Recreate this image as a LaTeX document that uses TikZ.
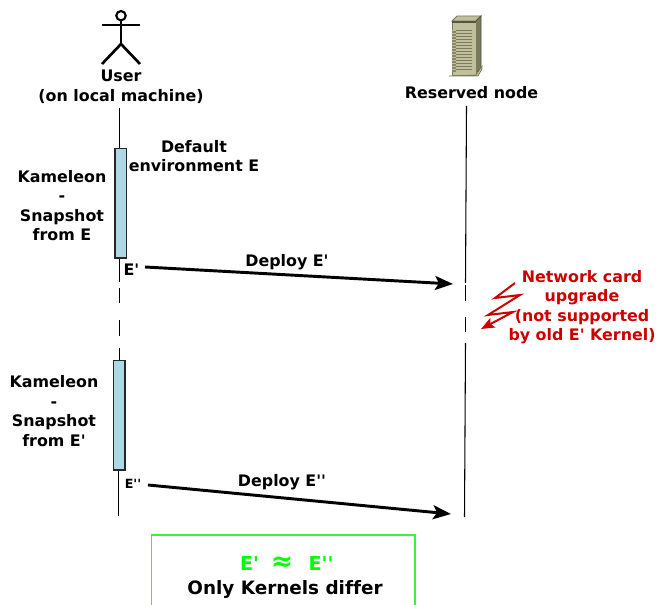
\documentclass[tikz,border=0pt]{standalone}
\usepackage{fontspec}
\newfontfamily\djv{DejaVu Sans}[Ligatures=NoCommon]
\newcommand{\lblfont}[2]{\djv\fontsize{#1}{#2}\selectfont\bfseries}
\usetikzlibrary{arrows.meta}
\definecolor{barblue}{HTML}{ADD8E6}
\definecolor{redtxt}{HTML}{CC0000}
\definecolor{srvA}{HTML}{C0C09C}
\definecolor{srvB}{HTML}{7A7A5C}
\definecolor{srvC}{HTML}{55553F}
\definecolor{boxgreen}{HTML}{3CF03C}
\definecolor{txtgreen}{HTML}{00FF00}
\tikzset{
  lbl/.style={font=\lblfont{11.9pt}{14.6pt}, align=center, inner sep=0pt, text=black},
  small/.style={font=\lblfont{9.5pt}{12pt}, inner sep=0pt},
  redlbl/.style={lbl, text=redtxt},
  greenlbl/.style={lbl, text=txtgreen, font=\lblfont{14.4pt}{16pt}},
  lifeline/.style={draw=black, line width=0.8pt},
  activation/.style={draw=black!85, fill=barblue, line width=1pt},
  msg/.style={draw=black, line width=2.2pt, -{Stealth[length=13.5pt,width=10.5pt,inset=3pt]}},
  stick/.style={draw=black, line width=2pt},
}
\begin{document}
\begin{tikzpicture}[x=0.75pt,y=-0.75pt]
\useasboundingbox (0,0) rectangle (656,605);
% actor
\draw[draw=black,line width=1.6pt] (121,15.7) circle (4.7);
\draw[stick] (121,21) -- (121,44);
\draw[stick] (102,25) -- (140,25);
\draw[stick] (102,64) -- (121,44) -- (140,64);
\node[lbl,font=\lblfont{11.9pt}{15pt}] (user) at (121,87) {User\\(on local machine)};
% server
\fill[srvA,draw=srvB,line width=0.6pt] (452,21) -- (457,16) -- (481,16) -- (476,21) -- cycle;
\fill[srvB,draw=srvC,line width=0.6pt] (476,21) -- (481,16) -- (481,68) -- (476,73) -- cycle;
\fill[srvA,draw=srvB,line width=0.6pt] (452,21) rectangle (476,75);
\fill[srvC] (452,21) rectangle (476,23.5);
\foreach \yy in {30,33,...,70}{\draw[srvB,line width=0.6pt] (456,\yy) -- (472,\yy);}
\fill[srvB!80!srvA] (452,30) rectangle (456,72);
\foreach \yy in {30,33,...,70}{\draw[srvA,line width=0.5pt] (452,\yy) -- (456,\yy);}
\fill[srvA,draw=srvB,line width=0.5pt] (449,76) -- (476,75) -- (482,66) -- (482,69) -- (478,76) -- cycle;
\node[lbl] (node) at (471.5,92.5) {Reserved node};
% anchors on the lifelines
\coordinate (u0) at (119.5,108);
\coordinate (u1) at (119.5,148);
\coordinate (u2) at (119.5,258);
\coordinate (u3) at (119.5,282);
\coordinate (u4) at (119.5,288);
\coordinate (u5) at (119.5,303);
\coordinate (u6) at (119.5,320);
\coordinate (u7) at (119.5,336);
\coordinate (u8) at (119.5,348);
\coordinate (u9) at (119.5,360);
\coordinate (u10) at (118.5,470);
\coordinate (u11) at (118.5,516);
\coordinate (s0) at (466.5,106);
\coordinate (s1) at (465.5,283);
\coordinate (s2) at (465.5,285);
\coordinate (s3) at (465.5,301);
\coordinate (s4) at (465.5,317);
\coordinate (s5) at (465.5,332);
\coordinate (s6) at (465.5,343);
\coordinate (s7) at (464.5,517);
% lifelines
\draw[lifeline] (u0) -- (u1);
\draw[lifeline] (u2) -- (u3);
\draw[lifeline] (u4) -- (u5);
\draw[lifeline] (u6) -- (u7);
\draw[lifeline] (u8) -- (u9);
\draw[lifeline] (u10) -- (u11);
\draw[lifeline] (s0) -- (s1);
\draw[lifeline] (s2) -- (s3);
\draw[lifeline] (s4) -- (s5);
\draw[lifeline] (s6) -- (s7);
% activations
\path[activation] (115,148.5) rectangle (126.5,258);
\path[activation] (113.5,360.5) rectangle (125,470);
% left labels
\node[lbl] at (62,205.5) {Kameleon\\-\\Snapshot\\from E};
\node[lbl] at (54,411) {Kameleon\\-\\Snapshot\\from E'};
\node[lbl] at (194,156) {Default\\environment E};
\node[lbl] (ep) at (131.5,270) {E'};
\node[small] (epp) at (133,484) {E''};
% messages
\coordinate (m1a) at (145,267);
\coordinate (m1b) at (453,284);
\coordinate (m2a) at (148,485);
\coordinate (m2b) at (451,514);
\draw[msg] (m1a) -- (m1b);
\draw[msg] (m2a) -- (m2b);
\node[lbl] at (287,262) {Deploy E'};
\node[lbl] at (282,482) {Deploy E''};
% red note
\node[redlbl] (note) at (582,307) {Network card\\upgrade\\(not supported\\by old E' Kernel)};
\coordinate (z0) at (515,283);
\draw[draw=redtxt,line width=1.5pt,line join=miter,-{Stealth[length=10pt,width=8pt,inset=2pt]}]
  (z0) -- (495,298) -- (520,295) -- (488,315) -- (513,312) -- (481,329);
% box
\coordinate (b0) at (151.5,605);
\coordinate (b1) at (151.5,535);
\coordinate (b2) at (415,535);
\coordinate (b3) at (415,605);
\draw[draw=boxgreen,line width=1.1pt] (b0) -- (b1) -- (b2) -- (b3);
\node[greenlbl] at (249.5,563) {E'};
\node[greenlbl,font=\lblfont{20pt}{22pt}] at (282,564) {≈};
\node[greenlbl] at (321,563) {E''};
\node[lbl,font=\lblfont{13.8pt}{16pt}] at (285,589) {Only Kernels differ};
\end{tikzpicture}
\end{document}
